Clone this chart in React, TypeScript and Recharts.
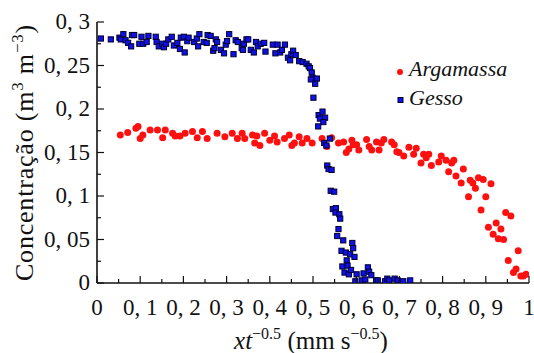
import React from 'react';
import { ScatterChart, Scatter, XAxis, YAxis, Legend } from 'recharts';

const argamassaX = [0.054,0.071,0.090,0.095,0.100,0.106,0.123,0.140,0.152,0.158,0.175,0.181,0.192,0.204,0.221,0.232,0.244,0.255,0.278,0.296,0.313,0.325,0.336,0.342,0.360,0.365,0.370,0.377,0.388,0.400,0.411,0.417,0.434,0.445,0.451,0.457,0.468,0.475,0.486,0.498,0.521,0.532,0.543,0.559,0.571,0.577,0.583,0.590,0.593,0.601,0.606,0.624,0.630,0.636,0.647,0.653,0.658,0.664,0.682,0.688,0.694,0.699,0.710,0.722,0.733,0.739,0.750,0.756,0.762,0.768,0.774,0.791,0.797,0.808,0.814,0.821,0.826,0.831,0.843,0.848,0.860,0.864,0.870,0.876,0.883,0.889,0.894,0.900,0.906,0.912,0.917,0.924,0.929,0.935,0.941,0.946,0.952,0.958,0.964,0.970,0.975,0.981,0.987,0.993];
const argamassaY = [0.170,0.173,0.178,0.180,0.166,0.170,0.176,0.176,0.167,0.176,0.172,0.169,0.169,0.172,0.174,0.167,0.174,0.166,0.172,0.168,0.172,0.166,0.172,0.166,0.170,0.161,0.169,0.158,0.172,0.164,0.169,0.162,0.166,0.170,0.158,0.161,0.168,0.161,0.166,0.161,0.166,0.157,0.167,0.161,0.162,0.150,0.154,0.164,0.159,0.159,0.153,0.165,0.157,0.153,0.162,0.153,0.161,0.165,0.162,0.159,0.151,0.150,0.146,0.156,0.148,0.155,0.138,0.148,0.144,0.148,0.135,0.139,0.146,0.141,0.128,0.138,0.141,0.123,0.115,0.131,0.099,0.118,0.115,0.109,0.121,0.084,0.119,0.099,0.064,0.114,0.056,0.069,0.051,0.062,0.050,0.081,0.026,0.077,0.012,0.016,0.037,0.008,0.008,0.010];

const gessoX = [0.009,0.032,0.052,0.055,0.061,0.066,0.072,0.079,0.081,0.086,0.098,0.103,0.107,0.115,0.119,0.136,0.138,0.143,0.151,0.155,0.160,0.165,0.173,0.178,0.186,0.192,0.194,0.201,0.203,0.209,0.212,0.225,0.231,0.234,0.237,0.247,0.254,0.256,0.263,0.269,0.272,0.275,0.278,0.287,0.294,0.298,0.301,0.306,0.316,0.321,0.326,0.335,0.338,0.340,0.346,0.350,0.356,0.363,0.368,0.372,0.379,0.387,0.390,0.407,0.413,0.418,0.424,0.428,0.435,0.442,0.447,0.450,0.454,0.460,0.468,0.476,0.485,0.490,0.493,0.497,0.499,0.495,0.509,0.505,0.501,0.513,0.522,0.528,0.516,0.524,0.512,0.526,0.531,0.539,0.533,0.536,0.543,0.541,0.549,0.546,0.553,0.552,0.561,0.563,0.559,0.556,0.570,0.566,0.576,0.586,0.591,0.593,0.596,0.578,0.568,0.580,0.573,0.583,0.588,0.601,0.598,0.613,0.617,0.621,0.627,0.630,0.635,0.646,0.650,0.667,0.672,0.676,0.689,0.696,0.709,0.725];
const gessoY = [0.281,0.280,0.282,0.280,0.286,0.279,0.276,0.272,0.285,0.285,0.275,0.283,0.275,0.277,0.284,0.283,0.277,0.272,0.275,0.271,0.275,0.280,0.283,0.273,0.276,0.269,0.282,0.283,0.265,0.278,0.282,0.277,0.281,0.272,0.286,0.277,0.276,0.285,0.284,0.267,0.270,0.280,0.277,0.268,0.264,0.274,0.278,0.286,0.263,0.279,0.277,0.270,0.268,0.275,0.280,0.280,0.268,0.265,0.277,0.272,0.275,0.276,0.266,0.274,0.264,0.274,0.265,0.268,0.274,0.259,0.256,0.263,0.267,0.262,0.255,0.254,0.252,0.249,0.247,0.242,0.236,0.234,0.235,0.229,0.213,0.193,0.197,0.190,0.189,0.185,0.180,0.161,0.158,0.166,0.135,0.131,0.130,0.106,0.105,0.085,0.086,0.081,0.079,0.074,0.062,0.054,0.049,0.037,0.035,0.033,0.046,0.040,0.030,0.026,0.019,0.020,0.012,0.010,0.015,0.010,0.002,0.003,0.011,0.004,0.018,0.013,0.009,0.003,0.003,0.002,0.005,0.003,0.005,0.003,0.002,0.003];

const xTicks = [0,0.05,0.1,0.15,0.2,0.25,0.3,0.35,0.4,0.45,0.5,0.55,0.6,0.65,0.7,0.75,0.8,0.85,0.9,0.95,1];
const yTicks = [0,0.025,0.05,0.075,0.1,0.125,0.15,0.175,0.2,0.225,0.25,0.275,0.3];
const xMajorStep = 0.1;
const yMajorStep = 0.05;

const seriesNames = ['Argamassa', 'Gesso'];

const argamassa = argamassaX.map((x, i) => ({ x, y: argamassaY[i] }));
const gesso = gessoX.map((x, i) => ({ x, y: gessoY[i] }));

const FONT = "Liberation Serif, Times New Roman, Times, DejaVu Serif, Noto Serif, FreeSerif, serif";
const INK = '#111';
const AXIS_W = 1.6;
const MAJOR = 7;
const MINOR = 4;

const isMajor = (v: number, step: number) => Math.abs(v / step - Math.round(v / step)) < 1e-6;
const fmt = (v: number) => String(v).replace('.', ', ');

const txt = { fontFamily: FONT } as React.CSSProperties;

const BottomTick = (p: any) => {
  const v = p.payload.value;
  const maj = isMajor(v, xMajorStep);
  return (
    <g>
      <line x1={p.x} x2={p.x} y1={p.y} y2={p.y - (maj ? MAJOR : MINOR)} stroke={INK} strokeWidth={1.2} />
      {maj && (
        <text x={p.x} y={p.y + 32} textAnchor="middle" style={txt} fontSize={23} fill={INK}>
          {fmt(v)}
        </text>
      )}
    </g>
  );
};

const TopTick = (p: any) => {
  const v = p.payload.value;
  const maj = isMajor(v, xMajorStep);
  return <line x1={p.x} x2={p.x} y1={p.y} y2={p.y + (maj ? MAJOR : MINOR)} stroke={INK} strokeWidth={1.2} />;
};

const LeftTick = (p: any) => {
  const v = p.payload.value;
  const maj = isMajor(v, yMajorStep);
  return (
    <g>
      <line x1={p.x} x2={p.x + (maj ? MAJOR : MINOR)} y1={p.y} y2={p.y} stroke={INK} strokeWidth={1.2} />
      {maj && (
        <text x={p.x - 7} y={p.y + 7} textAnchor="end" style={txt} fontSize={23} fill={INK}>
          {fmt(v)}
        </text>
      )}
    </g>
  );
};

const RightTick = (p: any) => {
  const v = p.payload.value;
  const maj = isMajor(v, yMajorStep);
  return <line x1={p.x} x2={p.x - (maj ? MAJOR : MINOR)} y1={p.y} y2={p.y} stroke={INK} strokeWidth={1.2} />;
};

const XLabel = (props: any) => {
  const vb = props.viewBox;
  const cx = vb.x + vb.width / 2 - 2;
  const cy = vb.y + 66;
  return (
    <text x={cx} y={cy} textAnchor="middle" style={txt} fontSize={25} fill={INK}>
      <tspan fontStyle="italic">xt</tspan>
      <tspan fontSize={16} dy={-10}>−0.5</tspan>
      <tspan dy={10}> (mm s</tspan>
      <tspan fontSize={16} dy={-10}>−0.5</tspan>
      <tspan dy={10}>)</tspan>
    </text>
  );
};

const YLabel = (props: any) => {
  const vb = props.viewBox;
  const cx = vb.x + 33;
  const cy = vb.y + vb.height / 2;
  return (
    <text x={cx} y={cy} transform={`rotate(-90, ${cx}, ${cy})`} textAnchor="middle" style={txt} fontSize={26} letterSpacing={0.8} fill={INK}>
      <tspan>Concentração (m</tspan>
      <tspan fontSize={17} dy={-10}>3</tspan>
      <tspan dy={10}> m</tspan>
      <tspan fontSize={17} dy={-10}>−3</tspan>
      <tspan dy={10}>)</tspan>
    </text>
  );
};

const RedDot = (p: any) => <circle cx={p.cx} cy={p.cy} r={3.5} fill="#ff1010" />;
const BlueSq = (p: any) => (
  <rect x={p.cx - 2.6} y={p.cy - 2.6} width={5.2} height={5.2} fill="#1010e8" stroke="#000033" strokeWidth={1} />
);

const LegendContent = (props: any) => {
  const payload = props.payload || [];
  return (
    <svg width={140} height={60} style={{ display: 'block' }}>
      {payload.map((e: any, i: number) => (
        <g key={i}>
          {i === 0 ? (
            <circle cx={10} cy={17} r={3} fill="#ff1010" />
          ) : (
            <rect x={8} y={42.5} width={5} height={5} fill="#1010e8" stroke="#000033" strokeWidth={1} />
          )}
          <text x={19} y={21 + i * 29} style={txt} fontStyle="italic" fontSize={22} fill={INK}>
            {e.value}
          </text>
        </g>
      ))}
    </svg>
  );
};

export default function App() {
  return (
    <div style={{ position: 'absolute', left: 0, top: 0, background: '#fff' }}>
      <ScatterChart width={534} height={353} margin={{ top: 22, right: 5, bottom: 30, left: 0 }}>
        <XAxis
          xAxisId="b"
          dataKey="x"
          type="number"
          orientation="bottom"
          domain={[0, 1]}
          ticks={xTicks}
          interval={0}
          height={40}
          tickSize={0}
          tickMargin={0}
          tickLine={false}
          tick={BottomTick}
          axisLine={{ stroke: INK, strokeWidth: AXIS_W }}
          label={{ content: XLabel }}
          allowDataOverflow
        />
        <XAxis
          xAxisId="t"
          dataKey="x"
          type="number"
          orientation="top"
          domain={[0, 1]}
          ticks={xTicks}
          interval={0}
          height={0}
          tickSize={0}
          tickMargin={0}
          tickLine={false}
          tick={TopTick}
          axisLine={{ stroke: INK, strokeWidth: AXIS_W }}
          allowDataOverflow
        />
        <YAxis
          yAxisId="l"
          dataKey="y"
          type="number"
          orientation="left"
          domain={[0, 0.3]}
          ticks={yTicks}
          interval={0}
          width={97}
          tickSize={0}
          tickMargin={0}
          tickLine={false}
          tick={LeftTick}
          axisLine={{ stroke: INK, strokeWidth: AXIS_W }}
          label={{ content: YLabel }}
          allowDataOverflow
        />
        <YAxis
          yAxisId="r"
          dataKey="y"
          type="number"
          orientation="right"
          domain={[0, 0.3]}
          ticks={yTicks}
          interval={0}
          width={0}
          tickSize={0}
          tickMargin={0}
          tickLine={false}
          tick={RightTick}
          axisLine={{ stroke: INK, strokeWidth: AXIS_W }}
          allowDataOverflow
        />
        <Legend
          layout="vertical"
          align="center"
          verticalAlign="middle"
          content={LegendContent}
          wrapperStyle={{ left: 390, top: 55, width: 140, height: 60 }}
        />
        <Scatter
          name={seriesNames[0]}
          data={argamassa}
          xAxisId="b"
          yAxisId="l"
          fill="#ff1010"
          shape={RedDot}
          isAnimationActive={false}
        />
        <Scatter
          name={seriesNames[1]}
          data={gesso}
          xAxisId="b"
          yAxisId="l"
          fill="#1010e8"
          shape={BlueSq}
          isAnimationActive={false}
        />
      </ScatterChart>
    </div>
  );
}
